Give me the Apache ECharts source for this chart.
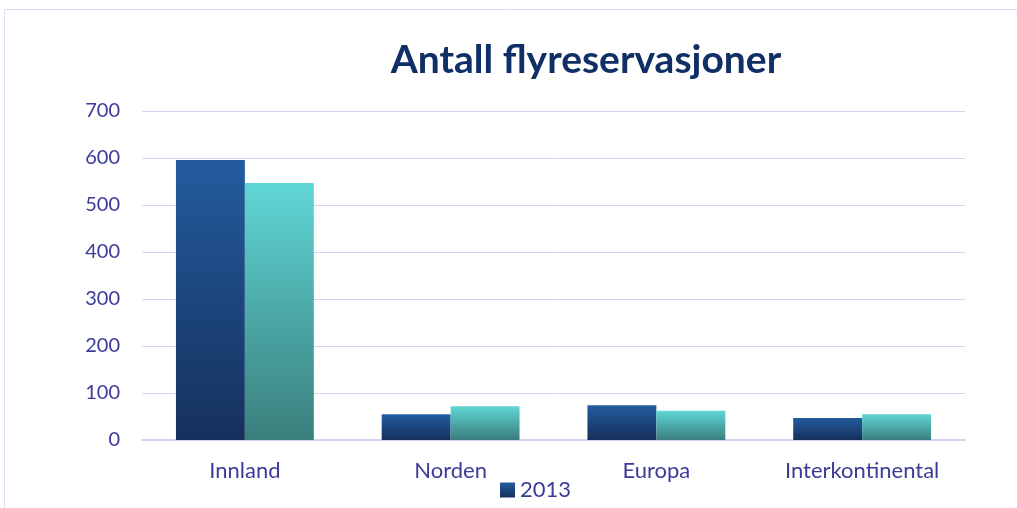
<!DOCTYPE html>
<html>
<head>
<meta charset="utf-8">
<script src="https://cdn.jsdelivr.net/npm/echarts@6/dist/echarts.min.js"></script>
<style>
  html, body { margin: 0; padding: 0; background: #fff; }
  #chart { width: 1017px; height: 508px; }
</style>
</head>
<body>
<div id="chart"></div>
<script>
var categories = ['Innland', 'Norden', 'Europa', 'Interkontinental'];
var values2013 = [596, 55, 74, 47];
var valuesOther = [547, 72, 62, 55];
var yTicks = [0, 100, 200, 300, 400, 500, 600, 700];

var dom = document.getElementById('chart');
var chart = echarts.init(dom);

var labelColor = '#3b3b98';
var fontFam = 'Lato, "Open Sans", sans-serif';

var darkGrad = new echarts.graphic.LinearGradient(0, 0, 0, 1, [
    {offset: 0, color: '#235c9e'},
    {offset: 1, color: '#16305c'}
]);
var tealGrad = new echarts.graphic.LinearGradient(0, 0, 0, 1, [
    {offset: 0, color: '#5fd6d5'},
    {offset: 1, color: '#3a7e7c'}
]);

var option = {
    animation: false,
    title: {
        text: 'Antall flyreservasjoner',
        left: 581,
        top: 36,
        textAlign: 'center',
        textStyle: {
            color: '#0f2f66',
            fontSize: 39,
            fontWeight: 'bold',
            fontFamily: fontFam
        }
    },
    graphic: [{
        type: 'rect',
        shape: {x: 4.5, y: 9.5, width: 1030, height: 520},
        style: {fill: 'none', stroke: '#dcdcf4', lineWidth: 1},
        silent: true
    }],
    legend: {
        data: ['2013'],
        bottom: 2,
        left: 495,
        itemWidth: 15,
        itemHeight: 15,
        itemGap: 6,
        textStyle: {color: labelColor, fontSize: 22, fontFamily: fontFam},
        icon: 'rect'
    },
    grid: {
        left: 142,
        right: 52,
        top: 111,
        bottom: 68,
        containLabel: false
    },
    xAxis: {
        type: 'category',
        data: categories,
        axisTick: {show: false},
        axisLine: {lineStyle: {color: '#d3d3f4', width: 2}},
        axisLabel: {color: labelColor, fontSize: 22, fontFamily: fontFam, margin: 20}
    },
    yAxis: {
        type: 'value',
        min: yTicks[0],
        max: yTicks[yTicks.length - 1],
        interval: 100,
        axisLine: {show: false},
        axisTick: {show: false},
        axisLabel: {color: labelColor, fontSize: 20, fontFamily: fontFam, margin: 22},
        splitLine: {lineStyle: {color: '#d3d3f4', width: 1}}
    },
    series: [{
        name: '2013',
        type: 'bar',
        data: values2013,
        barGap: '0%',
        barCategoryGap: '33%',
        itemStyle: {color: darkGrad}
    }, {
        name: 'Annet',
        type: 'bar',
        data: valuesOther,
        barGap: '0%',
        barCategoryGap: '33%',
        itemStyle: {color: tealGrad}
    }]
};

if (option && typeof option === 'object') {
    chart.setOption(option, true);
}
</script>
</body>
</html>
